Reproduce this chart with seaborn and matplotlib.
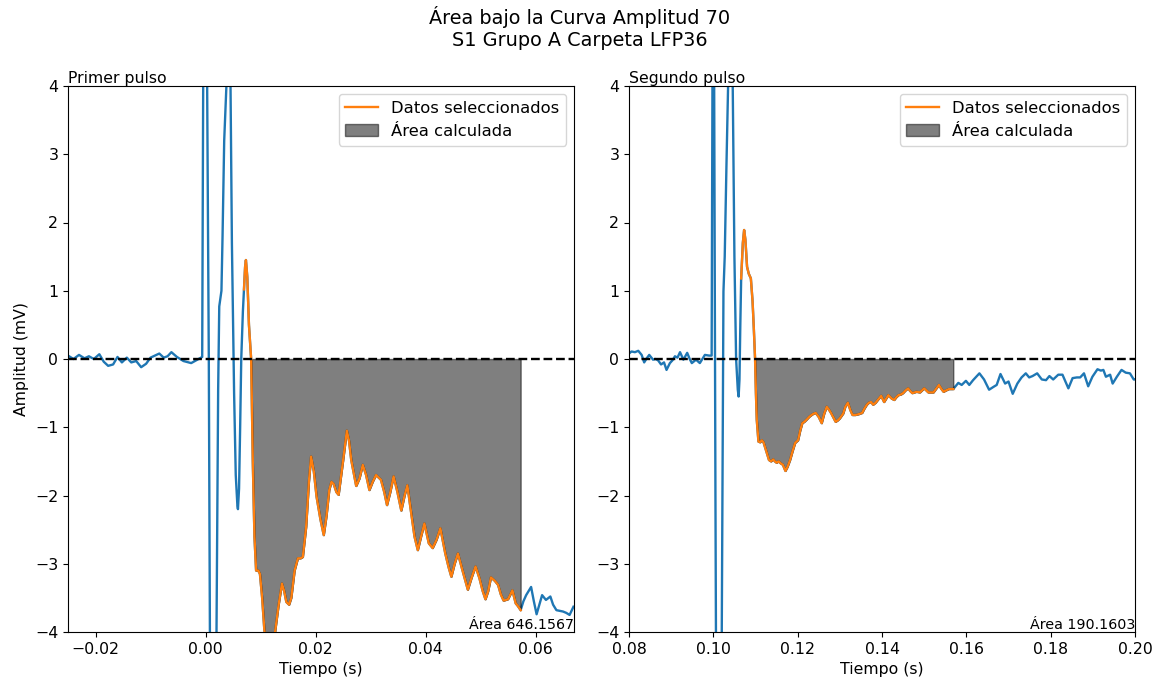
import numpy as np
import pandas as pd
import matplotlib
matplotlib.use("Agg")
import matplotlib.pyplot as plt
import seaborn as sns

# ---------------- data ----------------
left_pre_t = [-0.0250, -0.0240, -0.0230, -0.0220, -0.0212, -0.0203, -0.0193, -0.0185, -0.0177, -0.0168,
              -0.0160, -0.0152, -0.0143, -0.0135, -0.0126, -0.0117, -0.0108, -0.0100, -0.0092, -0.0084,
              -0.0076, -0.0069, -0.0062, -0.0052, -0.0040, -0.0026, -0.0015, -0.0006, -0.0004, 0.0000,
              0.0003, 0.0006, 0.0008, 0.0012, 0.0017, 0.0020, 0.0023, 0.0025, 0.0029, 0.0031,
              0.0034, 0.0038, 0.0042, 0.00455, 0.0048, 0.0052, 0.0055, 0.0058, 0.0059, 0.0061,
              0.0063, 0.0065, 0.0068, 0.0070]
left_pre_v = [0.05, 0.00, 0.06, 0.01, 0.04, 0.00, 0.07, -0.04, -0.10, -0.08,
              0.03, -0.05, 0.02, -0.05, -0.03, -0.12, -0.07, 0.02, 0.05, 0.08,
              0.02, 0.04, 0.10, 0.03, -0.03, -0.06, -0.01, 0.03, 4.5, 9.0,
              4.0, 0.0, -4.0, -9.0, -7.0, -4.0, -0.45, 0.77, 1.0, 1.8,
              3.2, 4.0, 5.5, 4.0, 1.7, -0.5, -1.7, -2.15, -2.2, -1.9,
              -1.0, 0.0, 0.7, 1.02]

left_sel_t = [0.0070, 0.0072, 0.00735, 0.0076, 0.0079, 0.0083, 0.0086, 0.0089, 0.0092, 0.0096,
              0.0099, 0.0103, 0.0107, 0.0112, 0.0117, 0.0122, 0.0127, 0.0133, 0.0139, 0.0143,
              0.0147, 0.0152, 0.0156, 0.0162, 0.0168, 0.0173, 0.0177, 0.0183, 0.0188, 0.0192,
              0.0197, 0.0202, 0.0209, 0.0215, 0.0220, 0.0225, 0.0229, 0.0233, 0.0238, 0.0242,
              0.0250, 0.0257, 0.0261, 0.0265, 0.0274, 0.0280, 0.0286, 0.0292, 0.0298, 0.0304,
              0.0310, 0.0319, 0.0325, 0.0330, 0.0336, 0.0342, 0.0349, 0.0356, 0.0362, 0.0367,
              0.0374, 0.0380, 0.0386, 0.0392, 0.0398, 0.0406, 0.0413, 0.0420, 0.0427, 0.0436,
              0.0442, 0.0447, 0.0453, 0.0459, 0.0467, 0.0477, 0.0484, 0.0491, 0.0498, 0.0504,
              0.0509, 0.0514, 0.0519, 0.0526, 0.0532, 0.0537, 0.0542, 0.0550, 0.0558, 0.0564,
              0.0568, 0.0573]
left_sel_v = [1.02, 1.35, 1.45, 1.20, 0.50, 0.00, -1.50, -2.60, -3.10, -3.10,
              -3.15, -3.50, -3.97, -4.30, -4.40, -4.30, -3.97, -3.60, -3.29, -3.40,
              -3.56, -3.60, -3.50, -3.10, -2.92, -2.92, -2.90, -2.46, -1.80, -1.43,
              -1.65, -2.02, -2.35, -2.58, -2.30, -1.92, -1.80, -1.83, -1.95, -1.99,
              -1.50, -1.05, -1.20, -1.48, -1.86, -1.75, -1.55, -1.70, -1.92, -1.80,
              -1.70, -1.77, -1.95, -2.14, -1.95, -1.72, -1.95, -2.22, -2.00, -1.85,
              -2.26, -2.60, -2.80, -2.60, -2.41, -2.70, -2.77, -2.65, -2.48, -2.85,
              -3.05, -3.19, -3.00, -2.85, -3.09, -3.38, -3.20, -3.04, -3.21, -3.40,
              -3.52, -3.40, -3.20, -3.25, -3.31, -3.45, -3.54, -3.52, -3.39, -3.58,
              -3.62, -3.68]

left_post_t = [0.0573, 0.0578, 0.0583, 0.0592, 0.0597, 0.0602, 0.0607, 0.0612, 0.0619, 0.0627,
               0.0632, 0.0638, 0.0644, 0.0650, 0.0656, 0.0662, 0.0669]
left_post_v = [-3.68, -3.55, -3.46, -3.34, -3.55, -3.74, -3.60, -3.46, -3.53, -3.48,
               -3.60, -3.68, -3.69, -3.70, -3.72, -3.75, -3.63]

right_pre_t = [0.0800, 0.0806, 0.0814, 0.0822, 0.0830, 0.0836, 0.0842, 0.0848, 0.0857, 0.0863,
               0.0869, 0.0876, 0.0883, 0.0889, 0.0897, 0.0903, 0.0909, 0.0915, 0.0921, 0.0929,
               0.0938, 0.0944, 0.0949, 0.0959, 0.0968, 0.0974, 0.0980, 0.0990, 0.0996, 0.0998,
               0.1000, 0.1002, 0.1005, 0.1008, 0.1012, 0.1016, 0.1020, 0.1023, 0.1024, 0.1027,
               0.1031, 0.1035, 0.1040, 0.1046, 0.1050, 0.1054, 0.1058, 0.1060, 0.1062, 0.1064,
               0.1066]
right_pre_v = [0.08, 0.11, 0.10, 0.12, 0.06, -0.05, 0.01, 0.06, -0.01, 0.00,
               -0.02, -0.08, -0.05, -0.16, -0.06, -0.02, 0.04, 0.02, 0.10, -0.01,
               0.09, 0.00, -0.06, -0.01, -0.06, 0.00, 0.06, 0.05, 0.05, 4.0,
               9.0, 4.0, -2.0, -7.0, -9.5, -7.5, -4.0, 0.0, 0.99, 1.5,
               2.8, 4.0, 6.0, 4.0, 1.5, 0.0, -0.45, -0.55, -0.30, 0.50,
               1.18]

right_sel_t = [0.1066, 0.1070, 0.1073, 0.1076, 0.1080, 0.1084, 0.1089, 0.1093, 0.1096, 0.1099,
               0.1101, 0.1103, 0.1107, 0.1111, 0.1115, 0.1119, 0.1122, 0.1127, 0.1132, 0.1137,
               0.1142, 0.1146, 0.1150, 0.1155, 0.1160, 0.1165, 0.1171, 0.1176, 0.1182, 0.1188,
               0.1194, 0.1201, 0.1206, 0.1211, 0.1216, 0.1221, 0.1227, 0.1233, 0.1238, 0.1243,
               0.1250, 0.1257, 0.1263, 0.1269, 0.1274, 0.1279, 0.1285, 0.1290, 0.1295, 0.1300,
               0.1308, 0.1313, 0.1319, 0.1325, 0.1330, 0.1337, 0.1344, 0.1353, 0.1358, 0.1364,
               0.1369, 0.1374, 0.1379, 0.1385, 0.1390, 0.1398, 0.1405, 0.1410, 0.1415, 0.1423,
               0.1429, 0.1434, 0.1439, 0.1445, 0.1450, 0.1456, 0.1462, 0.1467, 0.1472, 0.1477,
               0.1482, 0.1490, 0.1495, 0.1500, 0.1505, 0.1510, 0.1516, 0.1522, 0.1528, 0.1535,
               0.1541, 0.1546, 0.1552, 0.1559, 0.1564, 0.1569]
right_sel_v = [1.18, 1.70, 1.89, 1.75, 1.35, 1.25, 1.18, 0.85, 0.45, 0.00,
               -0.50, -0.89, -1.21, -1.22, -1.19, -1.22, -1.28, -1.38, -1.48, -1.50,
               -1.47, -1.50, -1.52, -1.50, -1.53, -1.55, -1.64, -1.58, -1.48, -1.35,
               -1.23, -1.19, -1.05, -0.94, -0.92, -0.89, -0.85, -0.82, -0.80, -0.79,
               -0.85, -0.94, -0.80, -0.70, -0.74, -0.79, -0.86, -0.92, -0.90, -0.87,
               -0.80, -0.70, -0.64, -0.75, -0.82, -0.82, -0.81, -0.79, -0.73, -0.67,
               -0.64, -0.63, -0.67, -0.64, -0.60, -0.54, -0.63, -0.58, -0.53, -0.58,
               -0.60, -0.56, -0.53, -0.52, -0.50, -0.46, -0.43, -0.47, -0.50, -0.49,
               -0.48, -0.49, -0.46, -0.43, -0.46, -0.49, -0.49, -0.49, -0.44, -0.38,
               -0.44, -0.48, -0.46, -0.44, -0.44, -0.44]

right_post_t = [0.1569, 0.1581, 0.1589, 0.1599, 0.1607, 0.1616, 0.1631, 0.1642, 0.1654, 0.1664,
                0.1672, 0.1681, 0.1692, 0.1700, 0.1710, 0.1721, 0.1731, 0.1741, 0.1749, 0.1757,
                0.1768, 0.1779, 0.1789, 0.1797, 0.1806, 0.1818, 0.1828, 0.1842, 0.1852, 0.1862,
                0.1870, 0.1879, 0.1889, 0.1899, 0.1911, 0.1919, 0.1925, 0.1931, 0.1941, 0.1947,
                0.1957, 0.1968, 0.1978, 0.1988, 0.1997, 0.2000]
right_post_v = [-0.43, -0.35, -0.38, -0.32, -0.38, -0.31, -0.21, -0.30, -0.45, -0.41,
                -0.38, -0.22, -0.36, -0.33, -0.51, -0.36, -0.27, -0.21, -0.27, -0.25,
                -0.21, -0.30, -0.31, -0.25, -0.30, -0.23, -0.23, -0.43, -0.28, -0.27,
                -0.27, -0.21, -0.40, -0.26, -0.15, -0.17, -0.16, -0.26, -0.23, -0.36,
                -0.26, -0.16, -0.20, -0.21, -0.30, -0.30]

panel_titles = ["Primer pulso", "Segundo pulso"]
area_values = [646.1567, 190.1603]
x_limits = [(-0.025, 0.067), (0.08, 0.20)]
x_ticks = [[-0.02, 0.00, 0.02, 0.04, 0.06], [0.08, 0.10, 0.12, 0.14, 0.16, 0.18, 0.20]]
y_ticks = [-4, -3, -2, -1, 0, 1, 2, 3, 4]
suptitle_text = "Área bajo la Curva Amplitud 70\nS1 Grupo A Carpeta LFP36"

panels = [
    (left_pre_t, left_pre_v, left_sel_t, left_sel_v, left_post_t, left_post_v),
    (right_pre_t, right_pre_v, right_sel_t, right_sel_v, right_post_t, right_post_v),
]

# ---------------- plot ----------------
FS = 11.3
plt.rcParams["font.family"] = ["DejaVu Sans"]
fig = plt.figure(figsize=(11.59, 6.86), dpi=100)
W, H = 1159, 686
axes = [fig.add_axes([68 / W, 1 - 632 / H, 506 / W, 546 / H]),
        fig.add_axes([629 / W, 1 - 632 / H, 506 / W, 546 / H])]

for i, ax in enumerate(axes):
    pre_t, pre_v, sel_t, sel_v, post_t, post_v = panels[i]
    full = pd.DataFrame({"t": list(pre_t) + list(sel_t[1:]) + list(post_t[1:]),
                         "v": list(pre_v) + list(sel_v[1:]) + list(post_v[1:])})
    sel = pd.DataFrame({"t": sel_t, "v": sel_v})

    sns.lineplot(data=full, x="t", y="v", ax=ax, color="#1f77b4", lw=1.7,
                 estimator=None, sort=False, zorder=2)
    st = np.array(sel_t)
    sv = np.array(sel_v)
    ax.fill_between(st, sv, 0, where=sv <= 0, interpolate=True, color="k",
                    alpha=0.5, label="Área calculada", zorder=2.5)
    sns.lineplot(data=sel, x="t", y="v", ax=ax, color="#ff7f0e", lw=1.7,
                 estimator=None, sort=False, label="Datos seleccionados", zorder=3)
    ax.axhline(0, color="k", ls="--", lw=1.7, zorder=4)

    ax.set_xlim(*x_limits[i])
    ax.set_ylim(-4, 4)
    ax.set_xticks(x_ticks[i])
    ax.set_yticks(y_ticks)
    ax.tick_params(labelsize=FS)
    ax.set_xlabel("Tiempo (s)", fontsize=FS)
    ax.set_ylabel("Amplitud (mV)" if i == 0 else "", fontsize=FS)
    ax.set_title(panel_titles[i], loc="left", fontsize=FS, pad=2)
    ax.text(1.0, 0.0, f"Área {area_values[i]:.4f}", transform=ax.transAxes,
            ha="right", va="bottom", fontsize=10.3)

    handles, labels = ax.get_legend_handles_labels()
    order = [labels.index("Datos seleccionados"), labels.index("Área calculada")]
    ax.legend([handles[k] for k in order], [labels[k] for k in order],
              loc="upper right", fontsize=11.8)

fig.suptitle(suptitle_text, fontsize=13.9, y=1 - 6 / H, va="top")
fig.savefig("out.png", dpi=100)
